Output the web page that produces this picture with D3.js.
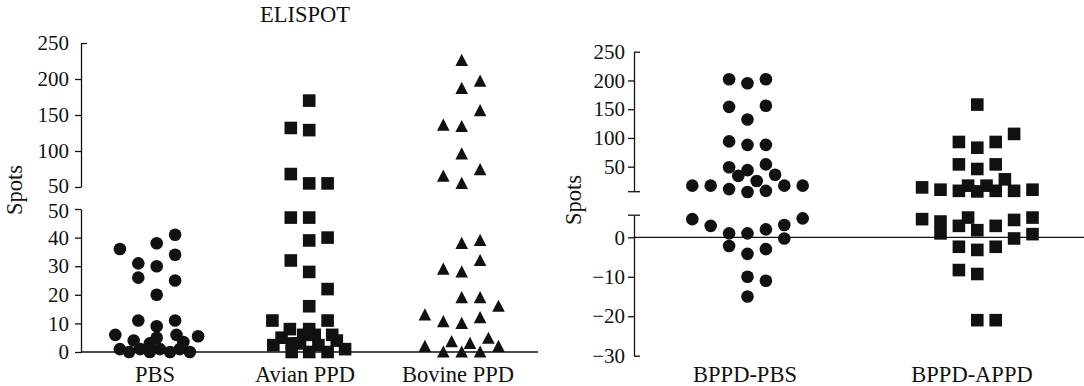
<!DOCTYPE html>
<html>
<head>
<meta charset="utf-8">
<script src="https://cdn.jsdelivr.net/npm/d3@7"></script>
<style>
  body { margin: 0; background: #fff; }
  text { font-family: "Liberation Serif", "Times New Roman", serif; fill: #111; }
</style>
</head>
<body>
<svg id="chart" width="1084" height="386"></svg>
<script>
// categories and ticks
const leftCategories = ['PBS', 'Avian PPD', 'Bovine PPD'];
const rightCategories = ['BPPD-PBS', 'BPPD-APPD'];
const leftUpperTicks = [50, 100, 150, 200, 250];
const leftLowerTicks = [0, 10, 20, 30, 40, 50];
const rightUpperTicks = [50, 100, 150, 200, 250];
const rightLowerTicks = [-30, -20, -10, 0];

// each point: [spots, dodge slot inside its column]
const pbs = [
  [36, -8], [31, -4], [26, -4], [38, 0], [30, 0], [20, 0], [41, 4], [34, 4], [25, 4],
  [11, -4], [11, 4], [9, 0],
  [6, -9], [4, -5], [5, 0], [3, -1.5], [6, 4.3], [5.5, 9], [3.5, 5.8],
  [1, -8], [0, -6], [1, -3.6], [0, -1.5], [1, 0.7], [0, 2.9], [1, 5], [0, 7.2]
];
const avianPPD = [
  [170, 0], [132, -4], [129, 0], [68, -4], [55, 0], [55, 4],
  [47, -4], [47, 0], [39, 0], [40, 4], [32, -4], [28, 0], [22, 4], [16, 0],
  [11, -8], [11, 4], [8, -4.2], [8, 0], [5, -6], [6, -1.3], [6, 1.2], [6, 5], [4, 6],
  [2.4, -7.8], [3, -3.8], [3, -2], [2.4, 2], [1, 7.8], [0, -3.8], [0, 0], [0, 4]
];
const bovinePPD = [
  [226, 0], [187, 0], [197, 4], [156, 4], [136, -4], [134, 0], [96, 0],
  [65, -4], [55, 0], [74, 4],
  [38, 0], [39, 4], [32, 4], [29, -4], [28, 0], [19, 0], [19, 4], [16, 8],
  [13, -8], [10.6, -4], [10, 0], [12, 4],
  [3.6, -2.2], [3, 1.8], [4.8, 5.8], [2, 8], [2, -8], [0, -4], [0, 0], [0, 4]
];
const bppdPbs = [
  [202, -4], [195, 0], [202, 4], [154, -4], [156, 4], [132, 0],
  [94, -4], [88, 0], [88, 4], [49, -4], [44, 0], [54, 4],
  [34, -2], [36, 6], [25, 2], [17, -12], [17, -8], [11, -4], [6, 0], [8, 4], [17, 8], [17, 12],
  [4.6, -12], [4.8, 12], [2.9, -8], [3.1, 8], [1, -4], [1, 0], [2, 4], [-0.3, 8],
  [-2.2, -4], [-4.2, 0], [-3, 4], [-10, 0], [-11, 4], [-15, 0]
];
const bppdAppd = [
  [158, 0], [93, -4], [83, 0], [93, 4], [107, 8], [54, -4], [46, 0], [54, 4], [28, 6],
  [14, -12], [10, -8], [8, -4], [17, -2], [7, 0], [17, 2], [8, 4], [8, 8], [10, 12],
  [4.6, -12], [4, -8], [1, -8], [2.9, -4], [5, -2], [1.8, 0], [2.9, 4], [4.4, 8], [5, 12],
  [-0.3, 8], [0.8, 12], [-2.4, -4], [-3.2, 0], [-2.4, 4], [-8.3, -4], [-9.3, 0],
  [-21, 0], [-21, 4]
];

const svg = d3.select('#chart');
const ink = '#111';
const slot = 4.6;
const tickFont = 21;
const labelFont = 22.5;

const triangle = 'M0,-6.6L6.3,5.6L-6.3,5.6Z';
const square = 'M-6.3,-6.3H6.3V6.3H-6.3Z';
const circle = d3.symbol().type(d3.symbolCircle).size(Math.PI * 6.3 * 6.3)();

function styleAxis(g) {
  g.attr('font-family', null).attr('font-size', tickFont);
  g.select('.domain').attr('stroke', ink).attr('stroke-width', 1.3);
  g.selectAll('.tick line').attr('stroke', ink).attr('stroke-width', 1.3);
  g.selectAll('.tick text').attr('fill', ink);
}

function drawPoints(data, cx, yf, shape) {
  svg.append('g').selectAll('path')
    .data(data)
    .join('path')
    .attr('d', shape)
    .attr('fill', ink)
    .attr('transform', d => `translate(${cx + d[1] * slot},${yf(d[0])})`);
}

// ---------- left panel ----------
const axL = 81;
const xL = d3.scalePoint().domain(leftCategories).range([156.7, 461.7]);
const yLU = d3.scaleLinear().domain([50, 250]).range([187, 43]);
const yLL = d3.scaleLinear().domain([0, 50]).range([352, 209]);
const yLeft = v => v > 50 ? yLU(v) : yLL(v);

svg.append('g')
  .attr('transform', `translate(${axL},0)`)
  .call(d3.axisLeft(yLU).tickValues(leftUpperTicks).tickSize(6).tickSizeOuter(0).tickPadding(6))
  .call(g => styleAxis(g))
  .call(g => g.selectAll('.tick').filter(d => d === 250).select('line').attr('x2', 6))
  .call(g => g.selectAll('.tick').filter(d => d === 50).select('text').attr('y', -1.5));

svg.append('g')
  .attr('transform', `translate(${axL},0)`)
  .call(d3.axisLeft(yLL).tickValues(leftLowerTicks).tickSize(6).tickSizeOuter(0).tickPadding(6))
  .call(g => styleAxis(g))
  .call(g => g.selectAll('.tick').filter(d => d === 50).select('text').attr('y', 1.5));

svg.append('line')
  .attr('x1', axL).attr('x2', 538)
  .attr('y1', yLL(0)).attr('y2', yLL(0))
  .attr('stroke', ink).attr('stroke-width', 1.3);

drawPoints(pbs, xL('PBS'), yLeft, circle);
drawPoints(avianPPD, xL('Avian PPD'), yLeft, square);
drawPoints(bovinePPD, xL('Bovine PPD'), yLeft, triangle);

svg.append('g').selectAll('text')
  .data(leftCategories)
  .join('text')
  .attr('x', (d, i) => [155, 305, 458][i])
  .attr('y', 382)
  .attr('text-anchor', 'middle')
  .attr('font-size', labelFont)
  .text(d => d);

svg.append('text')
  .attr('x', 305).attr('y', 22)
  .attr('text-anchor', 'middle')
  .attr('font-size', labelFont)
  .text('ELISPOT');

svg.append('text')
  .attr('transform', 'translate(22,190) rotate(-90)')
  .attr('text-anchor', 'middle')
  .attr('font-size', labelFont)
  .text('Spots');

// ---------- right panel ----------
const axR = 634;
const xR = d3.scalePoint().domain(rightCategories).range([747.5, 977.3]);
const yRU = d3.scaleLinear().domain([6.5, 250]).range([191.7, 51.7]);
const yRL = d3.scaleLinear().domain([-30, 5.6]).range([355.7, 215.2]);
const yRight = v => v >= 6 ? yRU(v) : yRL(v);

svg.append('g')
  .attr('transform', `translate(${axR},0)`)
  .call(d3.axisLeft(yRU).tickValues(rightUpperTicks).tickSize(6).tickSizeOuter(0).tickPadding(3))
  .call(g => styleAxis(g))
  .call(g => g.selectAll('.tick').filter(d => d === 250).select('line').attr('x2', 6))
  .call(g => g.append('line').attr('x1', -6).attr('x2', 6)
    .attr('y1', yRU(6.5)).attr('y2', yRU(6.5))
    .attr('stroke', ink).attr('stroke-width', 1.3));

svg.append('g')
  .attr('transform', `translate(${axR},0)`)
  .call(d3.axisLeft(yRL).tickValues(rightLowerTicks).tickSize(6).tickSizeOuter(0).tickPadding(3))
  .call(g => styleAxis(g))
  .call(g => g.selectAll('.tick').filter(d => d === -30).select('line').attr('x2', 6))
  .call(g => g.append('line').attr('x1', -6).attr('x2', 6)
    .attr('y1', yRL(5.6)).attr('y2', yRL(5.6))
    .attr('stroke', ink).attr('stroke-width', 1.3));

svg.append('line')
  .attr('x1', axR).attr('x2', 1084)
  .attr('y1', yRL(0)).attr('y2', yRL(0))
  .attr('stroke', ink).attr('stroke-width', 1.3);

drawPoints(bppdPbs, xR('BPPD-PBS'), yRight, circle);
drawPoints(bppdAppd, xR('BPPD-APPD'), yRight, square);

svg.append('g').selectAll('text')
  .data(rightCategories)
  .join('text')
  .attr('x', (d, i) => [745, 972][i])
  .attr('y', 382)
  .attr('text-anchor', 'middle')
  .attr('font-size', labelFont)
  .text(d => d);

svg.append('text')
  .attr('transform', 'translate(581,200) rotate(-90)')
  .attr('text-anchor', 'middle')
  .attr('font-size', labelFont)
  .text('Spots');
</script>
</body>
</html>
